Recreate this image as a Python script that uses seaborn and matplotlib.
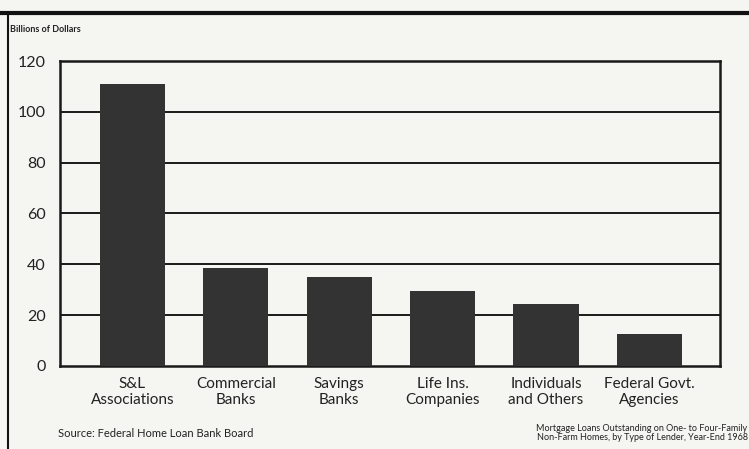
import pandas as pd
import matplotlib.pyplot as plt
import seaborn as sns

# --- data ---
LENDERS = ["S&L\nAssociations", "Commercial\nBanks", "Savings\nBanks",
           "Life Ins.\nCompanies", "Individuals\nand Others", "Federal Govt.\nAgencies"]
LOANS = [111, 38.5, 35, 29.5, 24.5, 12.5]   # billions of dollars, year-end 1968
Y_TICKS = [0, 20, 40, 60, 80, 100, 120]

BAR_COLOR = "#333333"
PAPER = "#f5f5f1"


def main():
    sns.set_style("white")
    plt.rcParams["font.family"] = ["Lato", "DejaVu Sans"]

    df = pd.DataFrame({"Lender": LENDERS, "Loans": LOANS})

    fig = plt.figure(figsize=(7.49, 4.49), dpi=100, facecolor=PAPER)
    ax = fig.add_axes([0.080, 0.185, 0.881, 0.679])
    ax.set_facecolor(PAPER)

    sns.barplot(data=df, x="Lender", y="Loans", color=BAR_COLOR,
                width=0.63, saturation=1, linewidth=0, edgecolor=BAR_COLOR,
                ax=ax, zorder=3)

    ax.set_xlim(-0.70, 5.68)
    ax.set_ylim(0, 120)
    ax.set_yticks(Y_TICKS)
    ax.set_yticklabels([str(v) for v in Y_TICKS], fontsize=11.5, color="#222222")
    ax.tick_params(axis="y", length=0, pad=10)
    ax.tick_params(axis="x", length=0, pad=8, labelsize=11, labelcolor="#222222")
    ax.set_xlabel("")
    ax.set_ylabel("")

    # horizontal rules
    for v in Y_TICKS[1:-1]:
        ax.axhline(v, color="#1a1a1a", lw=1.4, zorder=2)
    for s in ax.spines.values():
        s.set_color("#1a1a1a")
        s.set_linewidth(1.8)

    # page frame
    fig.add_artist(plt.Line2D([0, 1], [0.972, 0.972], color="#111111", lw=3,
                              transform=fig.transFigure))
    fig.add_artist(plt.Line2D([0.011, 0.011], [0, 0.972], color="#111111", lw=1.5,
                              transform=fig.transFigure))

    fig.text(0.013, 0.935, "Billions of Dollars", fontsize=6.5, fontweight="bold",
             color="#222222", va="center")
    fig.text(0.077, 0.035, "Source: Federal Home Loan Bank Board", fontsize=8,
             color="#222222", va="center")
    fig.text(0.998, 0.035,
             "Mortgage Loans Outstanding on One- to Four-Family\n"
             "Non-Farm Homes, by Type of Lender, Year-End 1968",
             fontsize=6.5, color="#222222", ha="right", va="center",
             linespacing=1.0)

    fig.savefig("out.png", dpi=100, facecolor=PAPER)
    plt.close(fig)


if __name__ == "__main__":
    main()
